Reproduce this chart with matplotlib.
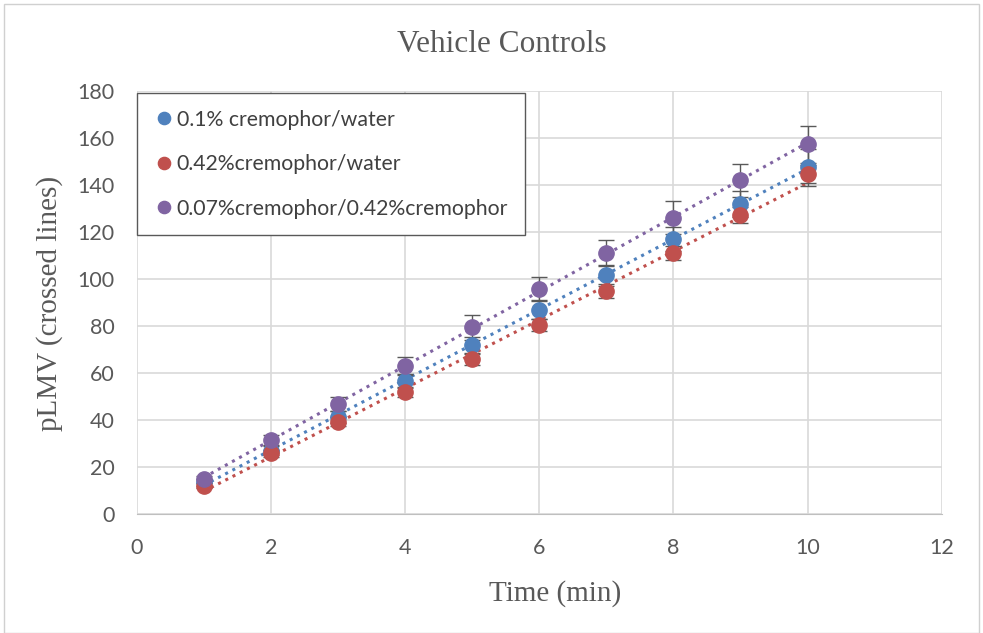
# Vehicle controls: pLMV crossed lines over time, with linear trendlines.

import numpy as np
import matplotlib.pyplot as plt


time_min = [1, 2, 3, 4, 5, 6, 7, 8, 9, 10]
cremo_01_water = [13.5, 27, 41.4, 56.6, 72, 87, 101.7, 117, 132, 147.5]
cremo_01_err = [1.5, 2, 2.5, 3, 3.5, 4, 4.5, 5, 5.5, 8]
cremo_042_water = [12, 25.8, 39.3, 52, 65.8, 80.4, 95, 111, 127.2, 144.7]
cremo_042_err = [1, 1.5, 2, 2, 2.5, 2.5, 3, 3, 3.5, 4]
cremo_007_042 = [14.8, 31.5, 47, 63, 79.4, 95.7, 111, 126.2, 142, 157.3]
cremo_007_err = [1.5, 2, 3, 4, 5.5, 5, 5.5, 7, 7, 8]

labels = ["0.1% cremophor/water", "0.42%cremophor/water",
          "0.07%cremophor/0.42%cremophor"]
colors = ["#4F81BD", "#C0504D", "#8064A2"]


def main():
    fig = plt.figure(figsize=(9.83, 6.33), dpi=100)
    ax = fig.add_axes([0.139, 0.188, 0.819, 0.668])

    series = [(cremo_01_water, cremo_01_err),
              (cremo_042_water, cremo_042_err),
              (cremo_007_042, cremo_007_err)]
    x = np.array(time_min)
    for (vals, err), lab, col in zip(series, labels, colors):
        ax.errorbar(x, vals, yerr=err, fmt='none', ecolor="#595959",
                    elinewidth=1, capsize=6, capthick=1, zorder=3)
        ax.plot(x, vals, 'o', color=col, markersize=11, label=lab, zorder=4)
        coef = np.polyfit(x, vals, 1)
        fn = np.poly1d(coef)
        ax.plot(x, fn(x), ':', color=col, linewidth=2.2, zorder=2)

    ax.set_xlim(0, 12)
    ax.set_ylim(0, 180)
    ax.set_xticks(range(0, 13, 2))
    ax.set_yticks(range(0, 181, 20))
    ax.grid(True, color="#d9d9d9", linewidth=1.2)
    ax.set_axisbelow(True)
    for side in ["top", "right", "left"]:
        ax.spines[side].set_visible(False)
    ax.spines["bottom"].set_color("#bfbfbf")
    ax.tick_params(length=0, labelsize=15.5, labelcolor="#595959")
    ax.tick_params(axis="y", pad=16)
    ax.tick_params(axis="x", pad=17)
    for t in ax.get_xticklabels() + ax.get_yticklabels():
        t.set_family("Lato")

    fig.text(0.51, 0.929, "Vehicle Controls", fontsize=22.5,
             family="Liberation Serif", color="#595959",
             ha="center", va="center")
    fig.text(0.565, 0.063, "Time (min)", fontsize=21,
             family="Liberation Serif", color="#595959",
             ha="center", va="center")
    fig.text(0.05, 0.52, "pLMV (crossed lines)", fontsize=21,
             family="Liberation Serif", color="#595959", rotation=90,
             ha="center", va="center")

    leg = ax.legend(loc="upper left", bbox_to_anchor=(0.0, 0.995),
                    borderaxespad=0,
                    prop={"family": "Lato", "size": 15.3}, fancybox=False,
                    framealpha=1, edgecolor="#595959", handletextpad=0.1,
                    handlelength=1.0, labelspacing=1.15, borderpad=0.78,
                    markerscale=0.8)
    leg.get_frame().set_linewidth(1)
    for t in leg.get_texts():
        t.set_color("#404040")

    fig.patches.append(plt.Rectangle((0.004, 0.0), 0.992, 0.993,
                                     transform=fig.transFigure, fill=False,
                                     edgecolor="#d0d0d0", linewidth=1))
    fig.savefig("out.png", dpi=100)


if __name__ == '__main__':
    main()
